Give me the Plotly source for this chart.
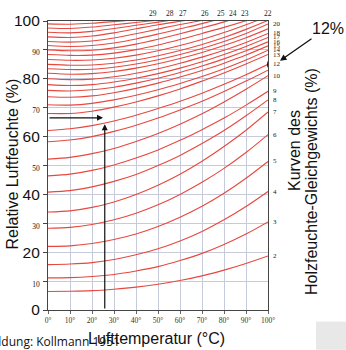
import plotly.graph_objects as go

# ---------------- data ----------------
temps = [0, 10, 20, 30, 40, 50, 60, 70, 80, 90, 100]

emc_02 = [6.4, 6.5, 6.7, 7.2, 7.9, 8.9, 10.2, 11.8, 13.8, 16.1, 18.7]
emc_03 = [11.1, 11.2, 11.6, 12.3, 13.5, 15.0, 17.1, 19.6, 22.7, 26.3, 30.5]
emc_04 = [15.7, 15.9, 16.4, 17.5, 19.1, 21.2, 23.9, 27.2, 31.2, 35.8, 41.0]
emc_05 = [22.0, 22.2, 23.0, 24.4, 26.3, 28.9, 32.1, 35.9, 40.4, 45.6, 51.4]
emc_06 = [28.3, 28.6, 29.6, 31.2, 33.5, 36.4, 40.0, 44.2, 49.0, 54.5, 60.7]
emc_07 = [33.9, 34.3, 35.5, 37.4, 40.0, 43.2, 47.0, 51.5, 56.6, 62.2, 68.5]
emc_08 = [40.8, 41.3, 42.6, 44.5, 46.9, 50.0, 53.5, 57.6, 62.1, 67.2, 72.7]
emc_09 = [46.4, 47.0, 48.3, 50.2, 52.6, 55.4, 58.7, 62.4, 66.4, 70.9, 75.7]
emc_10 = [52.2, 52.8, 54.1, 55.9, 58.3, 61.1, 64.3, 67.9, 72.0, 76.4, 81.1]
emc_11 = [58.2, 58.8, 60.0, 61.8, 63.9, 66.4, 69.2, 72.2, 75.6, 79.2, 83.0]
emc_12 = [62.1, 62.7, 63.8, 65.4, 67.4, 69.7, 72.2, 75.0, 78.1, 81.4, 85.0]
emc_13 = [68.0, 68.0, 68.8, 70.2, 72.0, 74.1, 76.5, 79.2, 82.0, 85.1, 88.4]
emc_14 = [71.0, 70.9, 71.5, 72.7, 74.3, 76.2, 78.4, 80.8, 83.5, 86.5, 89.9]
emc_15 = [73.8, 73.6, 74.1, 75.2, 76.7, 78.5, 80.6, 82.9, 85.4, 88.2, 91.4]
emc_16 = [76.0, 75.8, 76.2, 77.1, 78.5, 80.2, 82.2, 84.4, 86.9, 89.7, 92.8]
emc_17 = [78.0, 77.7, 78.0, 78.9, 80.2, 81.8, 83.7, 85.9, 88.4, 91.2, 94.3]
emc_18 = [80.0, 79.7, 79.9, 80.7, 81.9, 83.5, 85.4, 87.5, 89.9, 92.6, 95.7]
emc_19 = [81.9, 81.6, 81.8, 82.5, 83.7, 85.2, 87.0, 89.1, 91.5, 94.2, 97.3]
emc_20 = [83.5, 83.2, 83.3, 84.0, 85.1, 86.6, 88.4, 90.5, 92.9, 95.7, 99.0]
emc_21 = [85.0, 84.7, 84.8, 85.4, 86.5, 88.0, 89.8, 91.9, 94.3, 97.1, 100.2]
emc_22 = [86.7, 86.4, 86.5, 87.1, 88.2, 89.7, 91.5, 93.6, 96.0, 98.7, 101.6]
emc_23 = [88.4, 88.1, 88.2, 88.9, 90.1, 91.7, 93.6, 95.7, 97.8, 100.1, 102.6]
emc_24 = [90.0, 89.7, 89.9, 90.7, 92.0, 93.7, 95.6, 97.6, 99.7, 102.0, 104.5]
emc_25 = [91.5, 91.2, 91.5, 92.4, 93.8, 95.5, 97.3, 99.1, 101.1, 103.2]
emc_26 = [92.9, 92.7, 93.1, 94.1, 95.6, 97.2, 98.8, 100.2, 101.8]
emc_27 = [94.5, 94.3, 94.8, 95.9, 97.3, 98.7, 99.9, 101.1, 102.3]
emc_28 = [96.1, 95.9, 96.4, 97.4, 98.5, 99.6, 100.7, 101.8]
emc_29 = [97.6, 97.4, 97.9, 98.7, 99.5, 100.3, 101.1]
emc_30 = [99.0, 98.9, 99.2, 99.8, 100.5, 101.2]

curves = [emc_02, emc_03, emc_04, emc_05, emc_06, emc_07, emc_08, emc_09, emc_10,
          emc_11, emc_12, emc_13, emc_14, emc_15, emc_16, emc_17, emc_18, emc_19,
          emc_20, emc_21, emc_22, emc_23, emc_24, emc_25, emc_26, emc_27, emc_28,
          emc_29, emc_30]

# right-edge labels (EMC %) and the RH at which they sit at 100 °C
right_labels = ["2", "3", "4", "5", "6", "7", "8", "9", "10", "12", "13", "14",
                "15", "16", "17", "18", "20"]
right_label_rh = [18.7, 30.5, 41.0, 51.4, 60.7, 68.5, 72.7, 75.7, 81.1, 85.0, 88.4,
                  89.9, 91.4, 92.8, 94.3, 95.7, 99.0]

# top-edge labels (EMC %) and the temperature at which their curve meets 100 %
top_labels = ["29", "28", "27", "26", "25", "24", "23", "22"]
top_label_temp = [47.5, 55.5, 61.4, 71.4, 78.5, 84.0, 89.5, 100.0]

y_tickvals = [0, 10, 20, 30, 40, 50, 60, 70, 80, 90, 100]
y_ticklabels = ["0", "10", "20", "30", "40", "50", "60", "70", "80", "90", "100"]
y_big = [True, False, True, False, True, False, True, False, True, False, True]
x_tickvals = [0, 10, 20, 30, 40, 50, 60, 70, 80, 90, 100]
x_ticklabels = ["0°", "10°", "20°", "30°", "40°", "50°", "60°", "70°", "80°", "90°", "100°"]

# example reading: 66.5 % RH at ~25 °C
example_rh = 66.5
example_temp = 25.8
highlight_emc_rh = 85.0

# ---------------- figure ----------------
W, H = 346, 350
L, R, T, B = 48, 78, 12, 40
pw, ph = W - L - R, H - T - B


def px_x(p):
    return (p - L) / pw


def px_y(p):
    return (H - B - p) / ph


RED = "#e6483f"
SERIF = "Liberation Serif"
SANS = "Liberation Sans"

fig = go.Figure()
for c in curves:
    fig.add_trace(go.Scatter(x=temps[:len(c)], y=c, mode="lines",
                             line=dict(color=RED, width=1.1, shape="spline", smoothing=0.8),
                             hoverinfo="skip", showlegend=False))

small = '<span style="font-family:Liberation Serif;font-size:7.5px">{}</span>'
y_ticktext = [t if big else small.format(t) for t, big in zip(y_ticklabels, y_big)]

fig.update_layout(
    width=W, height=H,
    margin=dict(l=L, r=R, t=T, b=B, pad=0),
    paper_bgcolor="white", plot_bgcolor="white",
    showlegend=False,
    font=dict(family=SANS, color="#111"),
    xaxis=dict(range=[0, 100], tickvals=x_tickvals, ticktext=x_ticklabels,
               tickfont=dict(family=SERIF, size=7.5, color="#333"),
               showgrid=True, gridcolor="#c6cadb", gridwidth=1,
               showline=True, linecolor="#444", linewidth=1.2, mirror=True,
               ticks="outside", ticklen=3, tickcolor="#666", zeroline=False),
    yaxis=dict(range=[0, 100], tickvals=y_tickvals, ticktext=y_ticktext,
               tickfont=dict(family=SANS, size=15.5, color="#111"),
               showgrid=True, gridcolor="#c6cadb", gridwidth=1,
               showline=True, linecolor="#444", linewidth=1.2, mirror=True,
               ticks="outside", ticklen=4, tickcolor="#444", zeroline=False),
)

ann = []
# right labels
for lab, rh in zip(right_labels, right_label_rh):
    ann.append(dict(x=100, y=rh, xref="x", yref="y", text=lab, showarrow=False,
                    xanchor="left", yanchor="middle", xshift=3,
                    font=dict(family=SERIF, size=7, color="#222")))
# top labels
for lab, tx in zip(top_labels, top_label_temp):
    ann.append(dict(x=tx, y=100, xref="x", yref="y", text=lab, showarrow=False,
                    xanchor="center", yanchor="bottom", yshift=1,
                    font=dict(family=SERIF, size=7.5, color="#222")))
# arrows of the example reading
ann.append(dict(x=example_temp - 0.8, y=example_rh, ax=0, ay=example_rh, xref="x", yref="y",
                axref="x", ayref="y", text="", showarrow=True, arrowhead=2, arrowsize=1,
                arrowwidth=1.2, arrowcolor="#111"))
ann.append(dict(x=example_temp, y=example_rh - 2.2, ax=example_temp, ay=0, xref="x", yref="y",
                axref="x", ayref="y", text="", showarrow=True, arrowhead=2, arrowsize=1,
                arrowwidth=1.2, arrowcolor="#111"))
# 12% callout
ann.append(dict(x=px_x(280), y=px_y(53), xref="paper", yref="paper", ax=33, ay=-23,
                text="", showarrow=True, arrowhead=2, arrowsize=1, arrowwidth=1.3,
                arrowcolor="#111"))


def label(xp, yp, text, size=16, angle=0, family=SANS, xanchor="center"):
    return dict(x=px_x(xp), y=px_y(yp), xref="paper", yref="paper", text=text,
                textangle=angle, showarrow=False, xanchor=xanchor, yanchor="middle",
                font=dict(family=family, size=size, color="#111"))


ann.append(label(328, 20, "12%", size=16))
ann.append(label(13, 160, "Relative Luftfeuchte (%)", angle=-90))
ann.append(label(156, 339, "Lufttemperatur (°C)"))
ann.append(label(295, 146, "Kurven des", angle=-90))
ann.append(label(312, 178, "Holzfeuchte-Gleichgewichts (%)", angle=-90))
ann.append(label(122, 342, "Abbildung: Kollmann 1951", size=12, family="Open Sans",
                 xanchor="right"))
fig.update_layout(annotations=ann)

# highlight circle around the 12 % label, grey box bottom right
fig.add_shape(type="circle", xref="x", yref="y", xsizemode="pixel", ysizemode="pixel",
              xanchor=100, yanchor=highlight_emc_rh, x0=0, x1=12, y0=-6, y1=6,
              line=dict(color="#111", width=2), fillcolor="rgba(0,0,0,0)")
fig.add_shape(type="rect", xref="paper", yref="paper", x0=px_x(316), x1=px_x(347),
              y0=px_y(351), y1=px_y(322), line=dict(width=0), fillcolor="#e8e8e8")

fig.write_html("out.html")
